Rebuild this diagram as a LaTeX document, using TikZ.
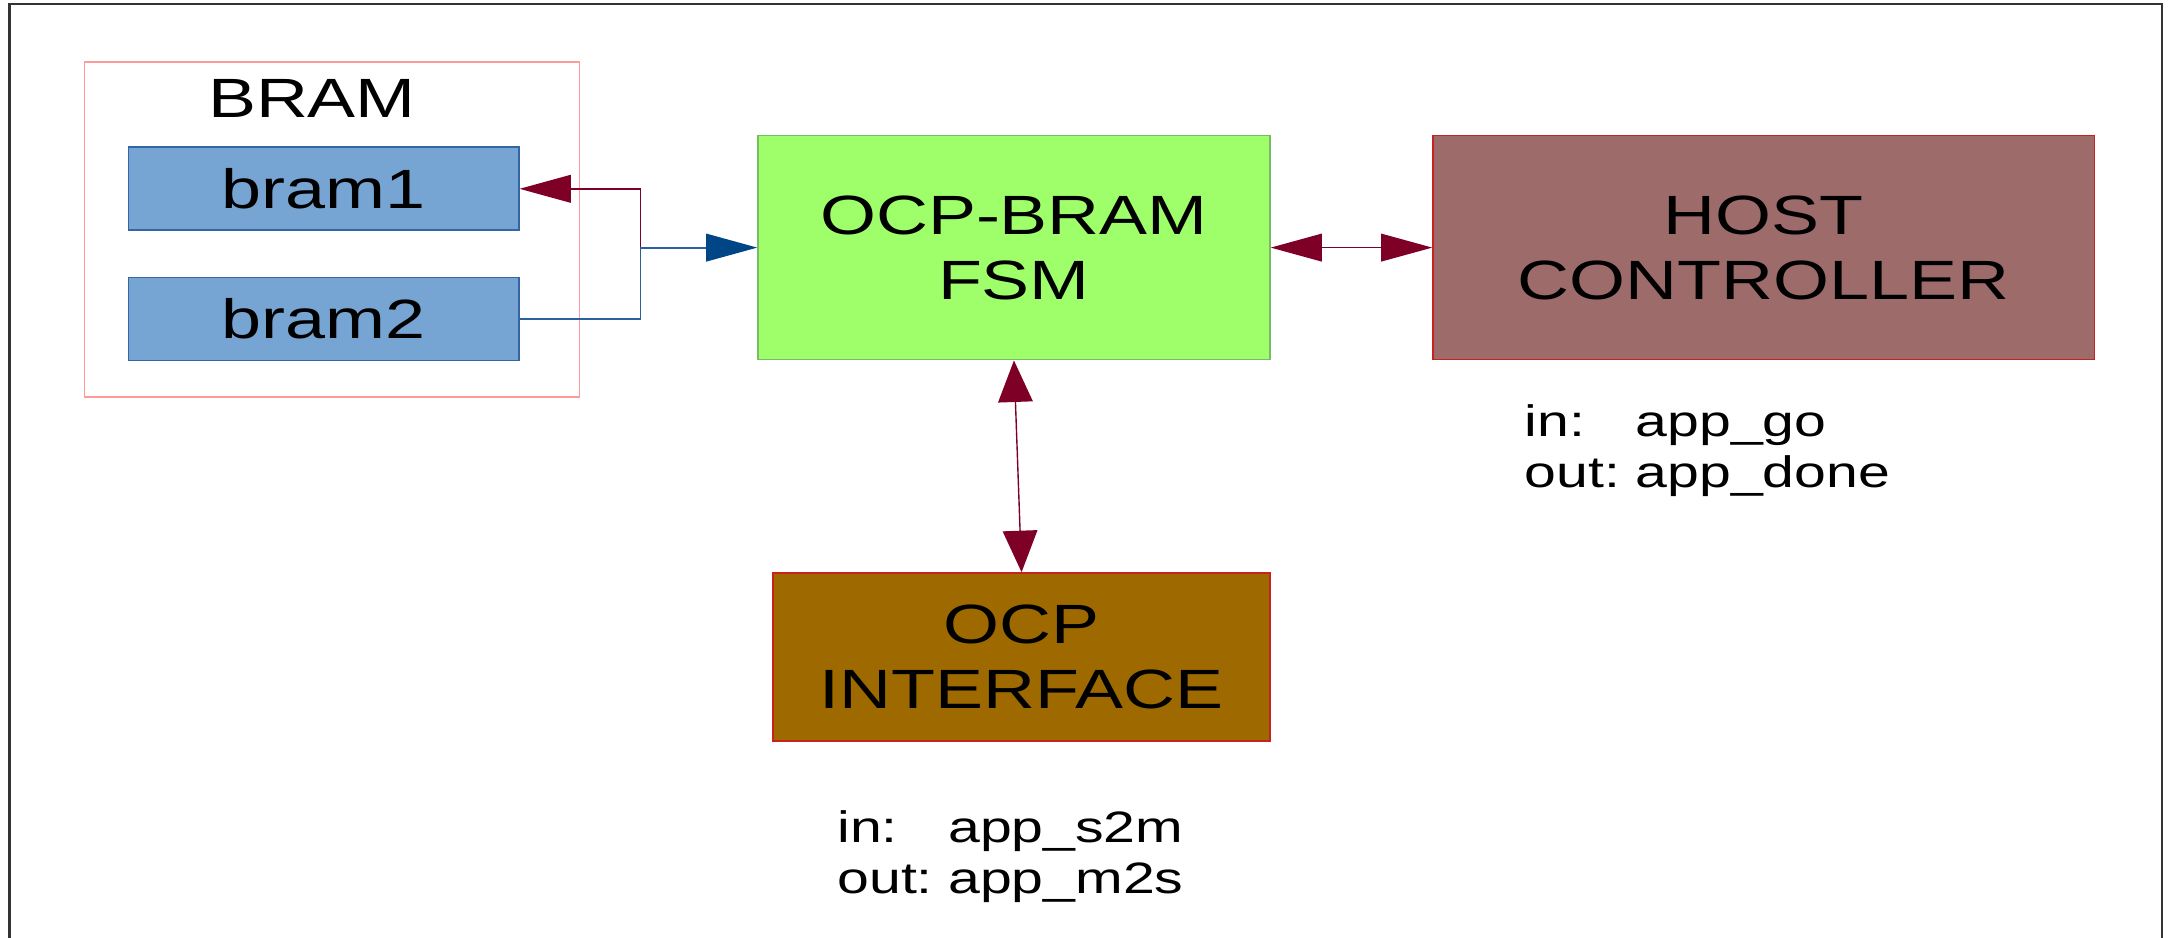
\documentclass[tikz,border=0pt]{standalone}
\usepackage{fontspec}
\setmainfont[FakeStretch=1.3]{Liberation Sans}
\usetikzlibrary{arrows.meta}
\definecolor{bramfill}{HTML}{77A5D3}
\definecolor{bramline}{HTML}{3465A4}
\definecolor{pinkline}{HTML}{FF9A9A}
\definecolor{fsmfill}{HTML}{9EFF6A}
\definecolor{fsmline}{HTML}{77BC65}
\definecolor{hostfill}{HTML}{9E6B6B}
\definecolor{redline}{HTML}{C9211E}
\definecolor{ocpfill}{HTML}{9E6A00}
\definecolor{darkred}{HTML}{7F0026}
\definecolor{blueline}{HTML}{2A62A0}
\definecolor{bluehead}{HTML}{004586}
\definecolor{framec}{HTML}{333333}
\begin{document}
\begin{tikzpicture}[x=0.5pt,y=-0.5pt,
  box/.style={draw, rectangle, inner sep=0pt, line width=0.6pt, align=center,
    font=\fontsize{20}{23.5}\selectfont},
  lbl/.style={inner sep=0pt, font=\fontsize{15.9}{18.5}\selectfont},
  hred/.style={draw=darkred, line width=0.6pt, -{Triangle[length=18.5pt,width=10pt]}},
  hredboth/.style={draw=darkred, line width=0.6pt, {Triangle[length=18.5pt,width=10pt]}-{Triangle[length=18.5pt,width=10pt]}},
  vredboth/.style={draw=darkred, line width=0.5pt, {Triangle[length=15pt,width=12.5pt]}-{Triangle[length=15pt,width=12.5pt]}},
  hblue/.style={draw=blueline, line width=0.7pt, -{Triangle[length=18.5pt,width=10pt,color=bluehead]}},
  frame/.style={draw=framec, line width=0.9pt}
]
\useasboundingbox (0,0) rectangle (1568,678);
\draw[frame] (7,678) -- (7,3) -- (1563,3) -- (1563,678);

\node[box, draw=pinkline, minimum width=179pt, minimum height=121pt] (brambox) at (240,166) {};
\node[inner sep=0pt, font=\fontsize{20}{23.5}\selectfont] (bramlbl) at (225.5,71) {BRAM};
\node[box, draw=bramline, fill=bramfill, minimum width=141pt, minimum height=30pt] (bram1) at (234,136.5) {bram1};
\node[box, draw=bramline, fill=bramfill, minimum width=141pt, minimum height=30pt] (bram2) at (234,230.5) {bram2};
\node[box, draw=fsmline, fill=fsmfill, minimum width=185pt, minimum height=81pt] (fsm) at (733,179) {OCP-BRAM\\FSM};
\node[box, draw=redline, fill=hostfill, minimum width=239pt, minimum height=81pt] (host) at (1275,179) {HOST\\CONTROLLER};
\node[box, draw=redline, fill=ocpfill, minimum width=179.5pt, minimum height=60.75pt] (ocp) at (738.5,475) {OCP\\INTERFACE};

\node[lbl, anchor=base west] (hostio) at (1102,315.5) {\begin{tabular}[t]{@{}l@{\hspace{0.35em}}l@{}}in: & app\_go\\ out: & app\_done\end{tabular}};
\node[lbl, anchor=base west] (ocpio) at (605,609) {\begin{tabular}[t]{@{}l@{\hspace{0.35em}}l@{}}in: & app\_s2m\\ out: & app\_m2s\end{tabular}};

\coordinate (j) at (463,179);
\draw[hred] (j) |- (bram1.east);
\draw[hblue] (bram2.east) -| (j) -- (fsm.west);
\draw[hredboth] (fsm.east) -- (host.west);
\draw[vredboth] (fsm.south) -- (ocp.north);
\end{tikzpicture}
\end{document}
